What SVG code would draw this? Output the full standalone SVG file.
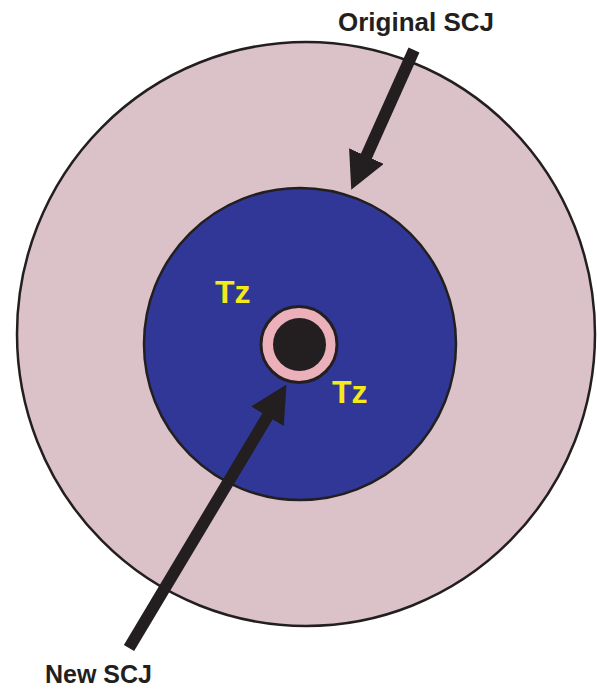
<svg xmlns="http://www.w3.org/2000/svg" width="597" height="689" viewBox="0 0 597 689">
<style>
.lbl{font-family:"Liberation Sans",Arial,sans-serif;font-weight:bold;font-size:25px;fill:#231F20}
.tz{font-family:"Liberation Sans",Arial,sans-serif;font-weight:bold;font-size:32px;fill:#F4EA1A}
.edge{stroke:#231F20;stroke-width:12;fill:none}
</style>
<defs>
<marker id="ah" markerUnits="userSpaceOnUse" viewBox="0 0 37 38" refX="1" refY="19" markerWidth="37" markerHeight="38" orient="auto">
<path d="M0,0 L37,19 L0,38 z" fill="#231F20"/>
</marker>
</defs>
<g id="outer">
<ellipse cx="306" cy="334" rx="289" ry="292" fill="#DBC2C8" stroke="#231F20" stroke-width="2.5"/>
</g>
<g id="tz-zone">
<ellipse cx="300" cy="344" rx="156" ry="156" fill="#303796" stroke="#231F20" stroke-width="2.5"/>
<text class="tz" x="215" y="303">Tz</text>
<text class="tz" x="332" y="403">Tz</text>
</g>
<g id="os">
<circle cx="299" cy="344.5" r="38" fill="#EBB0BA" stroke="#231F20" stroke-width="3"/>
<circle cx="299.5" cy="344.5" r="26.5" fill="#231F20"/>
</g>
<g id="labels">
<text class="lbl" x="338" y="31" style="font-size:26px">Original SCJ</text>
<text class="lbl" x="45" y="683">New SCJ</text>
</g>
<g id="connectors">
<line class="edge" x1="414" y1="50" x2="366" y2="157" marker-end="url(#ah)"/>
<line class="edge" x1="129" y1="648" x2="268" y2="415.5" marker-end="url(#ah)"/>
</g>
</svg>
